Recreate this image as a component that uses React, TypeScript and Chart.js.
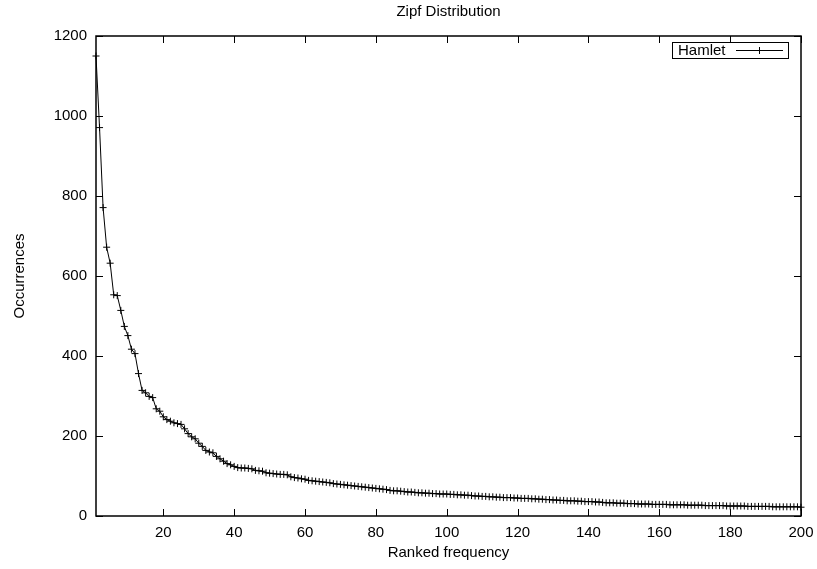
import { useEffect, useRef } from "react";
import { Chart, registerables } from "chart.js";

Chart.register(...registerables);

const chartTitle = "Zipf Distribution";
const xAxisTitle = "Ranked frequency";
const yAxisTitle = "Occurrences";
const seriesName = "Hamlet";

const occurrences = [
  1150, 971, 771, 672, 632, 553, 551, 514, 474, 451,
  417, 406, 356, 314, 308, 299, 296, 268, 262, 248,
  241, 237, 233, 231, 229, 218, 206, 198, 193, 182,
  174, 164, 160, 158, 149, 143, 137, 131, 128, 124,
  121, 120, 120, 119, 118, 114, 113, 112, 108, 107,
  106, 105, 104, 104, 103, 98, 96, 95, 93, 92,
  89, 88, 87, 86, 85, 84, 83, 81, 80, 79,
  78, 77, 76, 75, 74, 73, 72, 71, 70, 69,
  68, 67, 66, 64, 63, 63, 62, 61, 60, 60,
  59, 58, 58, 57, 57, 56, 56, 55, 55, 55,
  54, 54, 53, 53, 52, 52, 51, 50, 50, 49,
  49, 48, 48, 47, 47, 46, 46, 46, 45, 45,
  44, 44, 44, 43, 43, 42, 42, 41, 41, 40,
  40, 39, 39, 38, 38, 38, 37, 37, 36, 36,
  36, 35, 35, 34, 33, 33, 33, 32, 32, 32,
  31, 31, 31, 30, 30, 30, 30, 29, 29, 29,
  29, 29, 28, 28, 28, 28, 28, 27, 27, 27,
  27, 27, 26, 26, 26, 26, 26, 26, 25, 25,
  25, 25, 25, 25, 24, 24, 24, 24, 24, 24,
  24, 23, 23, 23, 23, 23, 23, 23, 23, 22,
];

const ranks = occurrences.map((_, i) => i + 1);
const xTicks = [20, 40, 60, 80, 100, 120, 140, 160, 180, 200];
const yTicks = [0, 200, 400, 600, 800, 1000, 1200];

const FONT = "'Liberation Sans', Arial, Helvetica, sans-serif";

const framePlugin = {
  id: "gnuplotFrame",
  afterDraw(chart: any) {
    const { ctx, chartArea } = chart;
    const { left, right, top, bottom } = chartArea;
    const xs = chart.scales.x;
    const ys = chart.scales.y;
    const tl = 7;
    ctx.save();
    ctx.strokeStyle = "#000";
    ctx.lineWidth = 1;
    ctx.beginPath();
    for (const v of xTicks) {
      const px = Math.round(xs.getPixelForValue(v)) + 0.5;
      ctx.moveTo(px, bottom);
      ctx.lineTo(px, bottom - tl);
      ctx.moveTo(px, top);
      ctx.lineTo(px, top + tl);
    }
    for (const v of yTicks) {
      const py = Math.round(ys.getPixelForValue(v)) + 0.5;
      ctx.moveTo(left, py);
      ctx.lineTo(left + tl, py);
      ctx.moveTo(right, py);
      ctx.lineTo(right - tl, py);
    }
    ctx.stroke();
    ctx.lineWidth = 1.5;
    ctx.strokeRect(left, top, right - left, bottom - top);

    // legend
    const bx = 672, by = 42, bw = 116, bh = 16;
    ctx.fillStyle = "#fff";
    ctx.fillRect(bx, by, bw, bh);
    ctx.lineWidth = 1;
    ctx.strokeRect(bx + 0.5, by + 0.5, bw, bh);
    ctx.fillStyle = "#000";
    ctx.font = `15px ${FONT}`;
    ctx.textAlign = "left";
    ctx.textBaseline = "middle";
    ctx.fillText(seriesName, 678, by + bh / 2 + 1);
    const ly = by + bh / 2 + 0.5;
    ctx.beginPath();
    ctx.moveTo(736, ly);
    ctx.lineTo(783, ly);
    ctx.moveTo(759.5 - 3.5, ly);
    ctx.lineTo(759.5 + 3.5, ly);
    ctx.moveTo(759.5, ly - 3.5);
    ctx.lineTo(759.5, ly + 3.5);
    ctx.stroke();
    ctx.restore();
  },
};

export default function App() {
  const ref = useRef<HTMLCanvasElement | null>(null);

  useEffect(() => {
    const canvas = ref.current;
    if (!canvas) return;
    const chart = new Chart(canvas, {
      type: "line",
      data: {
        datasets: [
          {
            label: seriesName,
            data: ranks.map((r, i) => ({ x: r, y: occurrences[i] })),
            borderColor: "#000",
            backgroundColor: "#000",
            borderWidth: 1,
            pointStyle: "cross",
            pointRadius: 3.5,
            pointBorderWidth: 1,
            pointBorderColor: "#000",
            tension: 0,
            fill: false,
            clip: false as any,
          },
        ],
      },
      options: {
        responsive: false,
        animation: false,
        devicePixelRatio: 1,
        layout: { padding: { left: 0, right: 16, top: 0, bottom: 0 } },
        plugins: {
          legend: { display: false },
          tooltip: { enabled: false },
          title: {
            display: true,
            fullSize: false,
            text: chartTitle,
            color: "#000",
            font: { family: FONT, size: 15, weight: "normal" as any },
            padding: { top: 3, bottom: 15 },
          },
        },
        scales: {
          x: {
            type: "linear",
            min: 1,
            max: 200,
            grid: { display: false, drawTicks: false },
            border: { display: false },
            afterBuildTicks: (scale: any) => {
              scale.ticks = xTicks.map((v) => ({ value: v }));
            },
            afterFit: (scale: any) => {
              scale.height = 53;
              scale.paddingLeft = 0;
              scale.paddingRight = 0;
            },
            ticks: {
              color: "#000",
              font: { family: FONT, size: 15 },
              padding: 8,
              maxRotation: 0,
              autoSkip: false,
              callback: (v: any) => String(v),
            },
            title: {
              display: true,
              text: xAxisTitle,
              color: "#000",
              font: { family: FONT, size: 15 },
              padding: { top: 0, bottom: 7 },
            },
          },
          y: {
            type: "linear",
            min: 0,
            max: 1200,
            grid: { display: false, drawTicks: false },
            border: { display: false },
            afterBuildTicks: (scale: any) => {
              scale.ticks = yTicks.map((v) => ({ value: v }));
            },
            afterFit: (scale: any) => {
              scale.width = 96;
              scale.paddingTop = 0;
              scale.paddingBottom = 0;
            },
            ticks: {
              color: "#000",
              font: { family: FONT, size: 15 },
              padding: 9,
              autoSkip: false,
              callback: (v: any) => String(v),
            },
            title: {
              display: true,
              text: yAxisTitle,
              color: "#000",
              font: { family: FONT, size: 15 },
              padding: { top: 11, bottom: 0 },
            },
          },
        },
      },
      plugins: [framePlugin],
    });
    return () => chart.destroy();
  }, []);

  return (
    <div style={{ position: "fixed", left: 0, top: 0, width: 817, height: 569, background: "#fff" }}>
      <canvas ref={ref} width={817} height={569} style={{ display: "block", width: 817, height: 569 }} />
    </div>
  );
}
